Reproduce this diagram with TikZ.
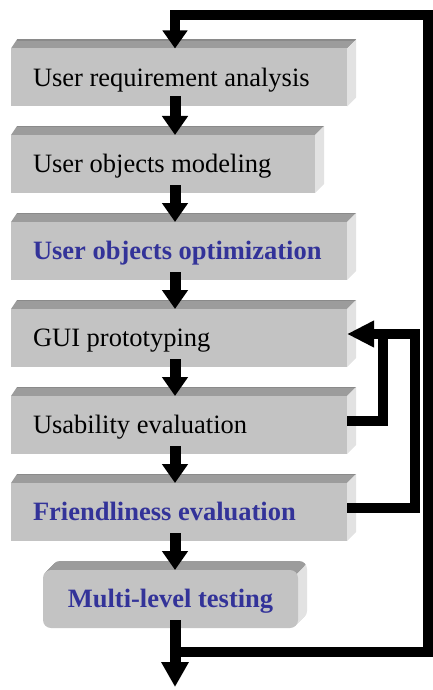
\documentclass[tikz,border=0pt]{standalone}
\usepackage{fontspec}
\setmainfont{Liberation Serif}
\usetikzlibrary{arrows.meta,calc,backgrounds}
\definecolor{frontc}{HTML}{C3C3C3}
\definecolor{topc}{HTML}{9C9C9C}
\definecolor{topedge}{HTML}{8A8A8A}
\definecolor{sidec}{HTML}{E2E2E2}
\definecolor{bluet}{HTML}{333399}
\begin{document}
\begin{tikzpicture}[x=1pt,y=-1pt,
  face/.style={rectangle, fill=frontc, draw=none, outer sep=0pt, inner sep=0pt, minimum height=58pt},
  lbl/.style={inner sep=0pt, outer sep=0pt, text height=17.5pt, text depth=0pt},
  blk/.style={lbl, text=black, font=\fontsize{26.5}{30}\selectfont},
  blu/.style={lbl, text=bluet, font=\fontsize{26.5}{30}\selectfont\bfseries},
  dn/.style={line width=11pt, -{Triangle[length=19pt,width=25pt]}},
  fb/.style={line width=10pt, line join=miter},
]
\useasboundingbox (0,0) rectangle (432,690);

% front faces
\node[face, minimum width=336pt] (b1) at (179,77.5) {};
\node[face, minimum width=304pt] (b2) at (163,164) {};
\node[face, minimum width=336pt] (b3) at (179,251) {};
\node[face, minimum width=336pt] (b4) at (179,338) {};
\node[face, minimum width=336pt] (b5) at (179,425) {};
\node[face, minimum width=336pt] (b6) at (179,512) {};
\node[face, minimum width=255pt, rounded corners=8pt] (b7) at (170.5,599) {};

% labels
\node[blk, anchor=west] (t1) at ([xshift=22pt]b1.west) {User requirement analysis};
\node[blk, anchor=west] (t2) at ([xshift=22pt]b2.west) {User objects modeling};
\node[blu, anchor=west] (t3) at ([xshift=22pt]b3.west) {User objects optimization};
\node[blk, anchor=west] (t4l) at ([xshift=22pt]b4.west) {GUI prototyping};
\node[blk, anchor=west] (t5) at ([xshift=22pt]b5.west) {Usability evaluation};
\node[blu, anchor=west] (t6) at ([xshift=22pt]b6.west) {Friendliness evaluation};
\node[blu] (t7) at (b7.center) {Multi-level testing};

% 3D bevels
\begin{scope}[on background layer]
  \foreach \n in {1,...,6}{
    \fill[topc] (b\n.north west) -- ++(6,-9) -- ([shift={(9,-9)}]b\n.north east) -- (b\n.north east) -- cycle;
    \draw[topedge, line width=1.5pt] ([shift={(6,-8.5)}]b\n.north west) -- ([shift={(9,-8.5)}]b\n.north east);
    \fill[sidec] (b\n.north east) -- ++(9,-9) -- ([shift={(9,-9)}]b\n.south east) -- (b\n.south east) -- cycle;
    \draw[white, line width=1pt] ([yshift=-0.5pt]b\n.south west) -- ([yshift=-0.5pt]b\n.south east);
  }
  \foreach \i in {1,...,9}{
    \fill[sidec, rounded corners=8pt] ([shift={(\i,-\i)}]b7.south west) rectangle ([shift={(\i,-\i)}]b7.north east);
  }
  \begin{scope}
    \clip ([shift={(-15,6)}]b7.north west) -- ([shift={(-15,-20)}]b7.north west) -- ([shift={(22,-20)}]b7.north east) -- ([shift={(-4,6)}]b7.north east) -- cycle;
    \foreach \i in {1,...,9}{
      \fill[topc, rounded corners=8pt] ([shift={(\i,-\i)}]b7.south west) rectangle ([shift={(\i,-\i)}]b7.north east);
    }
  \end{scope}
\end{scope}

% connectors between steps
\coordinate (ax) at (175,0);
\draw[dn] ($(b1.south -| ax)+(0,-10)$) -- (b2.north -| ax);
\draw[dn] ($(b2.south -| ax)+(0,-8)$) -- (b3.north -| ax);
\draw[dn] ($(b3.south -| ax)+(0,-8)$) -- (b4.north -| ax);
\draw[dn] ($(b4.south -| ax)+(0,-8)$) -- (b5.north -| ax);
\draw[dn] ($(b5.south -| ax)+(0,-8)$) -- (b6.north -| ax);
\draw[dn] ($(b6.south -| ax)+(0,-8)$) -- (b7.north -| ax);

% final output arrow and outer loop
\coordinate (endpt) at (175,687);
\coordinate (j) at (175,652);
\coordinate (rc) at (428,15);
\draw[fb, -{Triangle[length=18pt,width=24pt]}] (j) -| (rc) -| (b1.north -| ax);
\draw[line width=11pt, -{Triangle[length=25pt,width=26pt]}] ($(b7.south -| ax)+(0,-8)$) -- (endpt);

% inner feedback loops
\coordinate (t4) at ($(b4.east)+(0,-4)$);
\coordinate (r1) at (383,0);
\coordinate (r2) at (415,0);
\draw[fb] ($(b6.east)+(0,-4)$) -| (r2 |- t4) -- (r1 |- t4);
\draw[fb, -{Triangle[length=27pt,width=25pt]}] ($(b5.east)+(0,-4)$) -| (r1 |- t4) -- (t4);
\end{tikzpicture}
\end{document}
